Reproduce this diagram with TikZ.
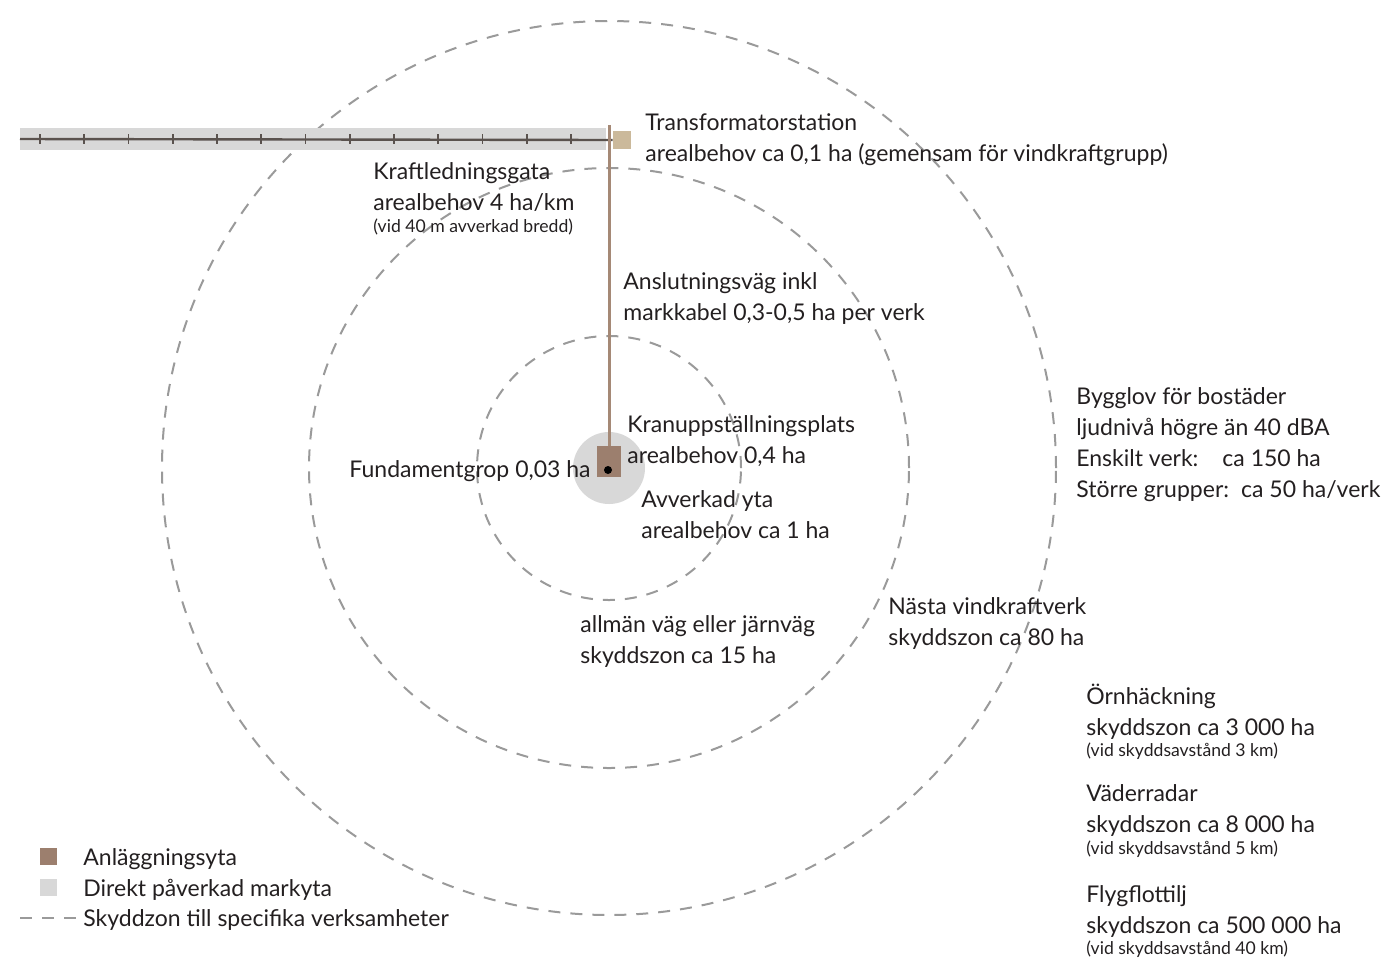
\documentclass[tikz,border=0pt]{standalone}
\usepackage{fontspec}
\setmainfont{Lato}
\usetikzlibrary{positioning}
\definecolor{vkText}{HTML}{231F20}
\definecolor{vkZone}{HTML}{9A9A9A}
\definecolor{vkPale}{HTML}{D8D8D8}
\definecolor{vkBrown}{HTML}{9C7F6E}
\definecolor{vkRoad}{HTML}{A58976}
\definecolor{vkTan}{HTML}{CBB99B}
\definecolor{vkWire}{HTML}{5A524E}
\tikzset{
  vk zone/.style={draw=vkZone, line width=1pt, dash pattern=on 6pt off 5pt},
  vk label/.style={font=\fontsize{11.5}{15.5}\selectfont, text=vkText, align=left, anchor=base west, inner sep=0pt},
  vk note/.style={font=\fontsize{8.8}{10}\selectfont, text=vkText, anchor=base west, inner sep=0pt},
  vk key/.style={minimum size=8.5pt, inner sep=0pt},
}

\begin{document}
\begin{tikzpicture}[x=0.5pt, y=-0.5pt]
  \useasboundingbox (0,0) rectangle (1392,960);

  % Protection zones round the turbine
  \coordinate (mast) at (609,468);
  \draw[vk zone] (mast) circle (66pt);
  \draw[vk zone] (mast) circle (150pt);
  \draw[vk zone] (mast) circle (223.5pt);

  % Power line corridor
  \fill[vkPale] (20,128) rectangle (606,150);
  \node[fill=vkTan, minimum size=9pt, inner sep=0pt] (trafo) at (622,140) {};
  \coordinate (wireW) at (20,139);
  \draw[vkWire, line width=1.2pt] (wireW) -- (trafo.west);
  \foreach \i in {0,...,12} {
    \draw[vkWire, line width=0.8pt] (40+44.25*\i,134) -- (40+44.25*\i,144);
  }

  % Cleared area, foundation and road
  \fill[vkPale] (mast) circle (18pt);
  \node[fill=vkBrown, minimum width=12pt, minimum height=15.5pt, inner sep=0pt] (fund) at (609,461.5) {};
  \fill[black] (608,470) circle (2pt);
  \coordinate (roadN) at (609,125);
  \draw[vkRoad, line width=1.5pt] (roadN) -- (fund.north);

  % Labels (anchored at the baseline of their last line)
  \node[vk label] (trafoTxt) at (645,161) {Transformatorstation\\arealbehov ca 0,1 ha (gemensam för vindkraftgrupp)};
  \node[vk label] (gata) at (373,210) {Kraftledningsgata\\arealbehov 4 ha/km};
  \node[vk note] (gataNote) at (373,232) {(vid 40 m avverkad bredd)};
  \node[vk label] (vag) at (623,320) {Anslutningsväg inkl\\markkabel 0,3-0,5 ha per verk};
  \node[vk label] (kran) at (627,463) {Kranuppställningsplats\\arealbehov 0,4 ha};
  \node[vk label, anchor=base east] (grop) at (591,477) {Fundamentgrop 0,03 ha};
  \node[vk label] (yta) at (641,538) {Avverkad yta\\arealbehov ca 1 ha};
  \node[vk label] (jarnvag) at (580,663) {allmän väg eller järnväg\\skyddszon ca 15 ha};
  \node[vk label] (nasta) at (888,645) {Nästa vindkraftverk\\skyddszon ca 80 ha};
  \node[vk label] (bygglov) at (1076,497) {Bygglov för bostäder\\ljudnivå högre än 40 dBA\\Enskilt verk:\hspace{12pt}ca 150 ha\\Större grupper:\hspace{6pt}ca 50 ha/verk};
  \node[vk label] (orn) at (1086,735) {Örnhäckning\\skyddszon ca 3 000 ha};
  \node[vk note] (ornNote) at (1086,756) {(vid skyddsavstånd 3 km)};
  \node[vk label] (radar) at (1086,832) {Väderradar\\skyddszon ca 8 000 ha};
  \node[vk note] (radarNote) at (1086,854) {(vid skyddsavstånd 5 km)};
  \node[vk label] (flyg) at (1086,933) {Flygflottilj\\skyddszon ca 500 000 ha};
  \node[vk note] (flygNote) at (1086,954) {(vid skyddsavstånd 40 km)};

  % Legend
  \node[vk key, fill=vkBrown] (keyA) at (48.5,856.5) {};
  \node[vk label] (keyAtxt) at (83,865) {Anläggningsyta};
  \node[vk key, fill=vkPale] (keyB) at (48.5,887.5) {};
  \node[vk label] (keyBtxt) at (83,896) {Direkt påverkad markyta};
  \coordinate (keyC) at (20,918);
  \draw[vk zone] (keyC) -- (76,918);
  \node[vk label] (keyCtxt) at (83,926) {Skyddzon till specifika verksamheter};
\end{tikzpicture}
\end{document}
